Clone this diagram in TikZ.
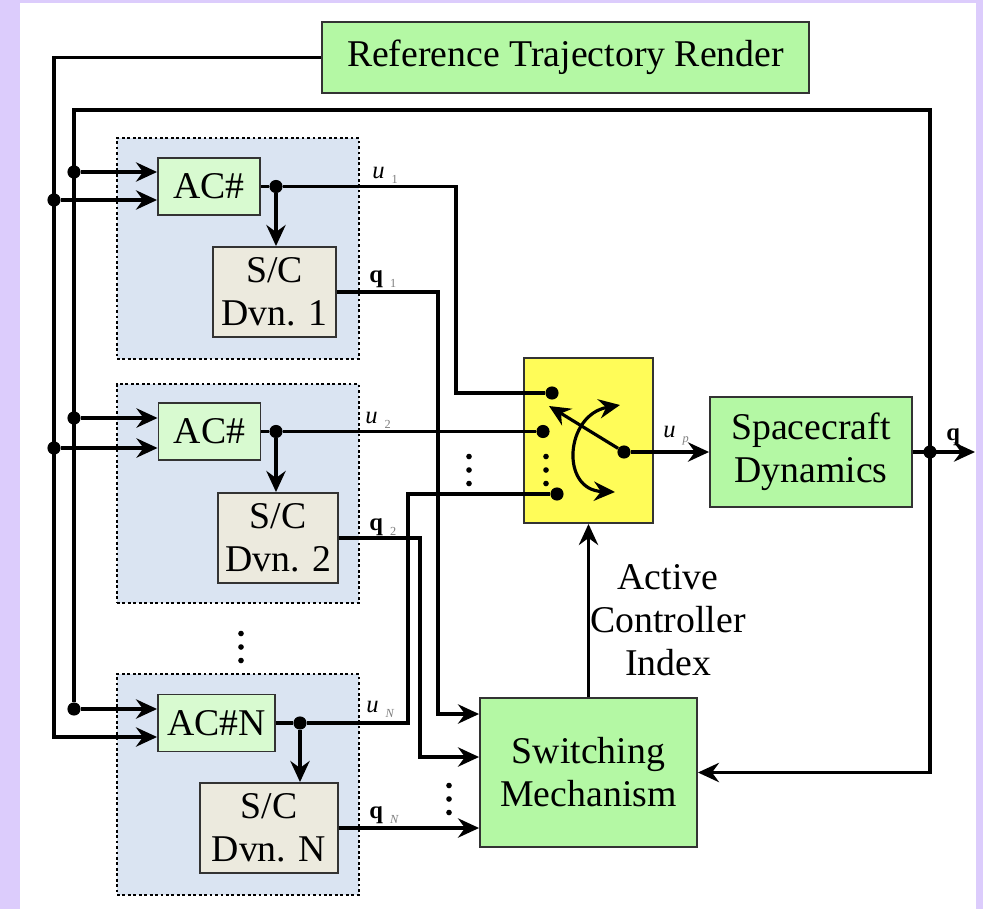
\documentclass[tikz,border=0pt]{standalone}
\usepackage{fontspec}
\setmainfont{Liberation Serif}
\usetikzlibrary{arrows.meta}

\definecolor{lavender}{HTML}{DCCCFC}
\definecolor{grpblue}{HTML}{DAE4F2}
\definecolor{bgreen}{HTML}{B4F8A4}
\definecolor{lgreen}{HTML}{D8FAD0}
\definecolor{scgray}{HTML}{ECEADE}
\definecolor{swyellow}{HTML}{FFFC58}

\newcommand{\blkfont}{\fontsize{21.5}{24.4}\selectfont}
\newcommand{\sigfont}{\fontsize{14}{16}\selectfont}
\newcommand{\subsig}[1]{\hspace{4pt}\raisebox{-3pt}{\fontsize{7}{7}\selectfont\color{gray}#1}}

\begin{document}
\begin{tikzpicture}[x=0.02cm,y=-0.02cm,
    wire/.style={line width=1.8pt},
    tip/.tip={Stealth[length=12pt,width=11pt,inset=4pt]},
    arr/.style={wire,-tip},
    blk/.style={draw=black!80,line width=1.1pt,inner sep=0pt,align=center,font=\blkfont},
    grp/.style={draw,line width=1.6pt,dash pattern=on 1.6pt off 1.5pt,fill=grpblue,minimum width=4.84cm,minimum height=4.42cm},
    dot/.style={circle,fill,inner sep=0pt,minimum size=7.5pt},
    sig/.style={anchor=base west,inner sep=0pt,font=\sigfont}]
  \useasboundingbox (0,0) rectangle (983,909);
  \fill[lavender] (0,0) rectangle (983,909);
  \fill[white] (20,3) rectangle (976,909);

  % controller groups
  \node[grp] (G1) at (238,248.5) {};
  \node[grp,minimum height=4.38cm] (G2) at (238,493.5) {};
  \node[grp] (GN) at (238,784.5) {};

  \node[blk,fill=bgreen,minimum width=9.74cm,minimum height=1.42cm] (REF) at (565.5,57.5) {Reference Trajectory Render};

  \node[blk,fill=lgreen,minimum width=2.04cm,minimum height=1.14cm] (AC1) at (209,186.5) {AC\#};
  \node[blk,fill=scgray,minimum width=2.46cm,minimum height=1.8cm] (SC1) at (274.5,292) {S/C\\Dvn. 1};
  \node[blk,fill=lgreen,minimum width=2.04cm,minimum height=1.14cm] (AC2) at (209.5,431.5) {AC\#};
  \node[blk,fill=scgray,minimum width=2.4cm,minimum height=1.8cm] (SC2) at (278,538) {S/C\\Dvn. 2};
  \node[blk,fill=lgreen,minimum width=2.34cm,minimum height=1.14cm] (ACN) at (216.5,723) {AC\#N};
  \node[blk,fill=scgray,minimum width=2.76cm,minimum height=1.8cm] (SCN) at (269,828) {S/C\\Dvn. N};

  \node[blk,fill=swyellow,minimum width=2.58cm,minimum height=3.3cm] (SW) at (588.5,440.5) {};
  \node[blk,fill=bgreen,minimum width=4.04cm,minimum height=2.2cm] (SD) at (811,452) {Spacecraft\\Dynamics};
  \node[blk,fill=bgreen,minimum width=4.34cm,minimum height=2.98cm] (SM) at (588.5,772.5) {Switching\\Mechanism};
  \node[font=\blkfont,align=center] (ACI) at (668,620) {Active\\Controller\\Index};

  % junctions
  \node[dot] (I1) at (74,172) {};
  \node[dot] (E1) at (54,200) {};
  \node[dot] (I2) at (74,418) {};
  \node[dot] (E2) at (54,448) {};
  \node[dot] (IN) at (74,709) {};
  \node[dot] (O1) at (276,186.5) {};
  \node[dot] (O2) at (276,431.5) {};
  \node[dot] (ON) at (300,723) {};
  \node[dot] (P1) at (552,393) {};
  \node[dot] (P2) at (543,431.5) {};
  \node[dot] (PN) at (557,494) {};
  \node[dot] (PO) at (624,452) {};
  \node[dot] (F) at (930,452) {};
  \coordinate (OB) at (54,737);
  \coordinate (FB) at (930,110);
  \coordinate (U1) at (456,393);
  \coordinate (UN) at (408,494);
  \coordinate (Q1) at (438,714);
  \coordinate (Q2) at (420,757);
  \coordinate (QO) at (975,452);

  % reference and state buses
  \draw[arr] (REF.west) -| (OB) -- (OB -| ACN.west);
  \draw[arr] (IN) |- (FB) |- (SM.east);
  \draw[arr] (IN) -- (IN -| ACN.west);
  \draw[arr] (I1) -- (I1 -| AC1.west);
  \draw[arr] (E1) -- (E1 -| AC1.west);
  \draw[arr] (I2) -- (I2 -| AC2.west);
  \draw[arr] (E2) -- (E2 -| AC2.west);

  % controller outputs
  \draw[wire] (AC1.east) -- (O1);
  \draw[wire] (AC2.east) -- (O2);
  \draw[wire] (ACN.east) -- (ON);
  \draw[arr] (O1) -- (O1 |- SC1.north);
  \draw[arr] (O2) -- (O2 |- SC2.north);
  \draw[arr] (ON) -- (ON |- SCN.north);
  \draw[wire] (O1) -| (U1) -- (P1);
  \draw[wire] (O2) -- (P2);
  \draw[wire] (ON) -| (UN) -- (PN);
  \draw[arr] (SC1.east) -| (Q1) -- (Q1 -| SM.west);
  \draw[arr] (SC2.east) -| (Q2) -- (Q2 -| SM.west);
  \draw[arr] (SCN.east) -- (SCN.east -| SM.west);

  \draw[arr] (PO) -- (PO -| SD.west);
  \draw[arr] (SD.east) -- (QO);
  \draw[arr] (SM.north) -- (SW.south);

  % switch symbol
  \draw[arr] (PO) -- (549,406);
  \draw[wire,tip-tip] (620,405) .. controls (565,415) and (560,490) .. (615,492);

  \foreach \x/\y in {241/647,469/470,546/470,449/799}
    \foreach \d in {-13.5,0,13.5}
      \fill (\x,\y+\d) circle (1.6pt);

  % signal labels
  \node[sig] (LU1) at (372,178) {\textit{u}\subsig{1}};
  \node[sig] (LQ1) at (369,282) {\textbf{q}\subsig{1}};
  \node[sig] (LU2) at (365,423) {\textit{u}\subsig{2}};
  \node[sig] (LQ2) at (369,530) {\textbf{q}\subsig{2}};
  \node[sig] (LUN) at (366,712) {\textit{u}\subsig{\textit{N}}};
  \node[sig] (LQN) at (369,818) {\textbf{q}\subsig{\textit{N}}};
  \node[sig] (LUP) at (663,437) {\textit{u}\subsig{\textit{p}}};
  \node[sig] (LQ) at (946,440) {\textbf{q}};
\end{tikzpicture}
\end{document}
